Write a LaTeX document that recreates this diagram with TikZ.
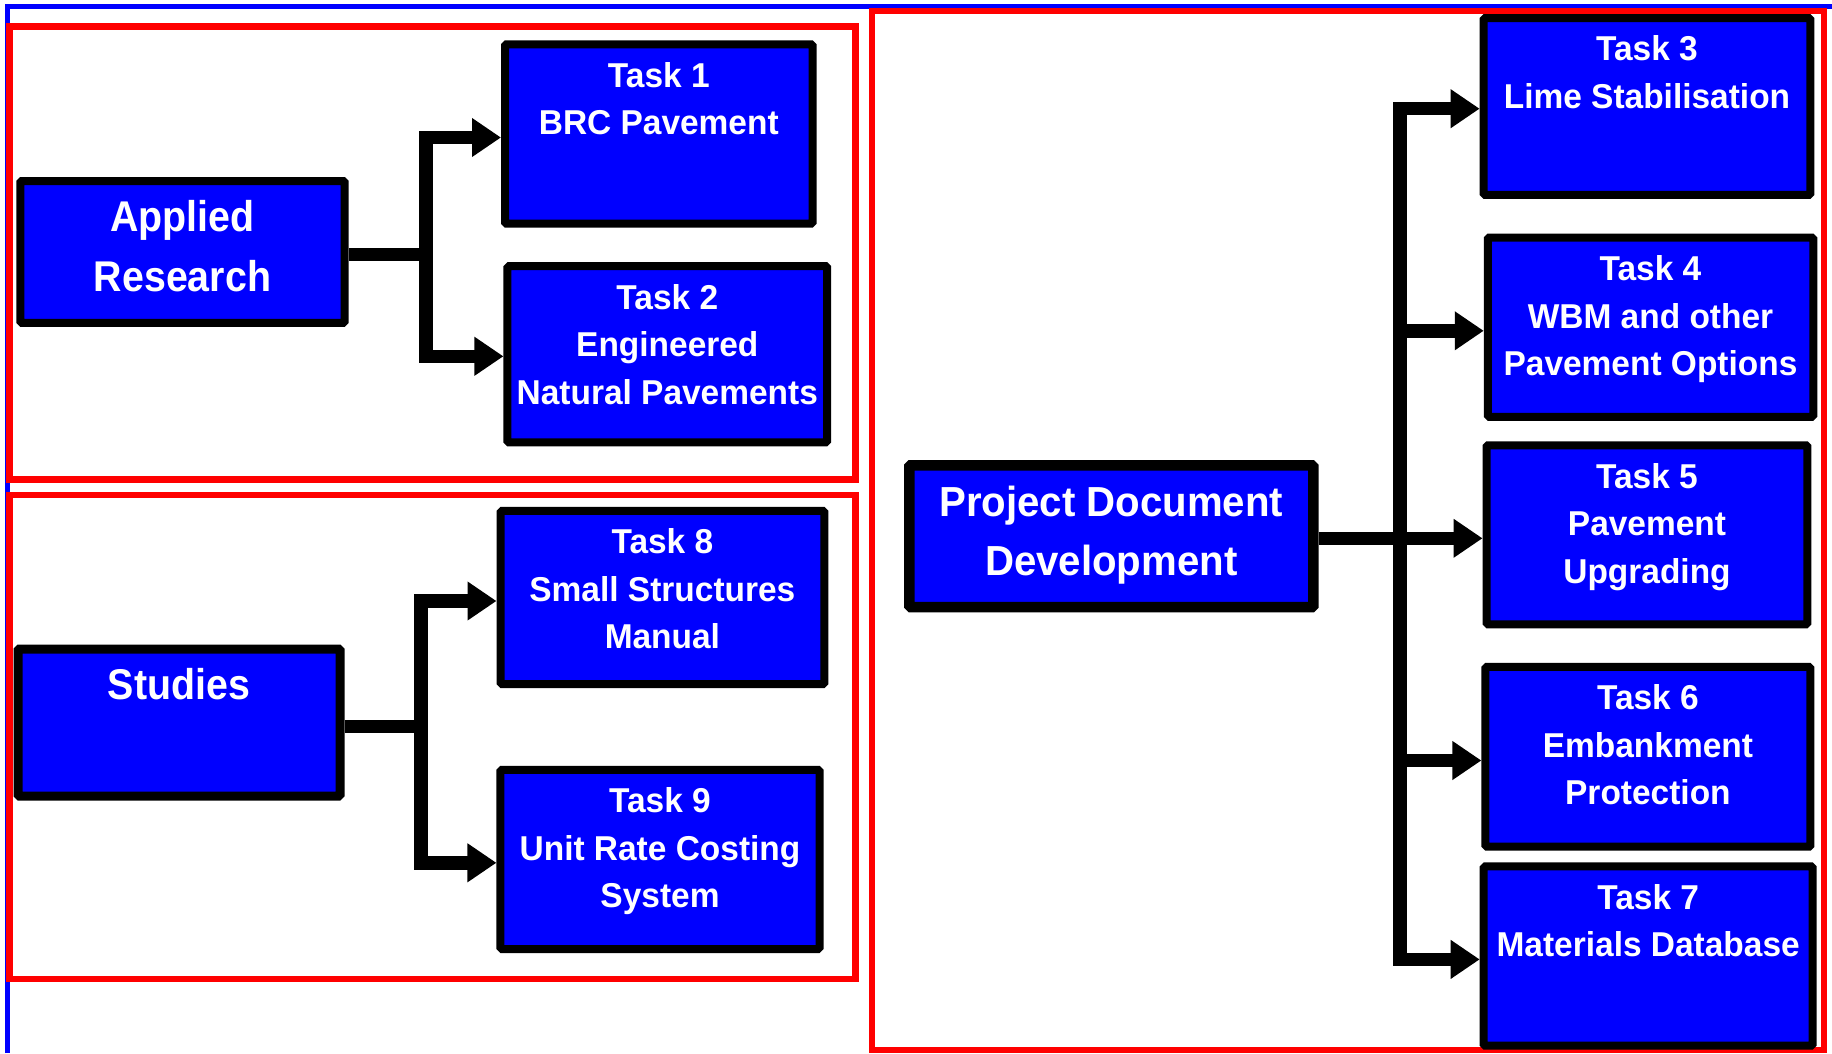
\documentclass[tikz,border=0pt]{standalone}
\usepackage{fontspec}
\usetikzlibrary{arrows.meta}
\newfontfamily\tfont[FakeStretch=0.97]{Liberation Sans Bold}
\newfontfamily\bfont[FakeStretch=0.915]{Liberation Sans Bold}
\newfontfamily\pfont[FakeStretch=0.957]{Liberation Sans Bold}
\definecolor{pblue}{RGB}{0,0,255}
\definecolor{pred}{RGB}{255,0,0}
\begin{document}
\begin{tikzpicture}[x=1pt,y=-1pt,
  box/.style={draw=black, line width=8pt, fill=pblue, rounded corners=1.5pt, inner sep=0pt},
  ttxt/.style={text=white, align=center, inner sep=0pt, outer sep=0pt, anchor=north,
    font=\tfont\fontsize{34.5}{47.6}\selectfont},
  btxt/.style={text=white, align=center, inner sep=0pt, outer sep=0pt, anchor=north,
    font=\bfont\fontsize{43}{60}\selectfont},
  ptxt/.style={text=white, align=center, inner sep=0pt, outer sep=0pt, anchor=north,
    font=\pfont\fontsize{42}{58.3}\selectfont},
  conn/.style={line width=13.5pt, draw=black},
  arr/.style={conn, -{Triangle[length=29pt,width=37pt]}},
  frame/.style={draw=pred, line width=6.5pt}
]
\useasboundingbox (0,0) rectangle (1832,1053);
\fill[white] (0,0) rectangle (1832,1053);
% blue outline
\draw[pblue, line width=5.3pt] (7.5,1053) -- (7.5,6.7) -- (1832,6.7);
% red frames
\draw[frame] (9.5,26.5) rectangle (855.5,479.5);
\draw[frame] (9.5,495) rectangle (855.5,979);
\draw[frame, line width=6pt] (871.5,11) rectangle (1823.5,1050);

% boxes
\node[box, minimum width=324.3pt, minimum height=141.7pt] (applied) at (182.5,251.9) {};
\node[box, line width=9pt, minimum width=322pt, minimum height=147pt] (studies) at (179,722.5) {};
\node[box, line width=10.5pt, minimum width=404pt, minimum height=141.7pt] (pdd) at (1111.3,536.2) {};
\node[box, minimum width=307.6pt, minimum height=179.3pt] (t1) at (658.8,134) {};
\node[box, minimum width=319.7pt, minimum height=176.2pt] (t2) at (667.3,354.3) {};
\node[box, minimum width=323.8pt, minimum height=173.1pt] (t8) at (662.4,597.5) {};
\node[box, minimum width=319.1pt, minimum height=179.2pt] (t9) at (660,859.4) {};
\node[box, minimum width=326.7pt, minimum height=176.9pt] (t3) at (1647,106.5) {};
\node[box, minimum width=325.5pt, minimum height=179.2pt] (t4) at (1650.5,327.2) {};
\node[box, minimum width=320.9pt, minimum height=179pt] (t5) at (1647,534.8) {};
\node[box, minimum width=325pt, minimum height=179.8pt] (t6) at (1647.9,756.8) {};
\node[box, minimum width=329pt, minimum height=179.1pt] (t7) at (1648.2,956) {};

% texts
\node[btxt] (appliedT) at ([yshift=-9.7pt]applied.north) {\rule{0pt}{45pt}Applied\\Research};
\node[btxt] (studiesT) at ([yshift=-9.7pt]studies.north) {\rule{0pt}{45pt}Studies};
\node[ptxt] (pddT) at ([yshift=-11.7pt]pdd.north) {\rule{0pt}{45pt}Project Document\\Development};
\node[ttxt] (t1T) at ([yshift=-10.8pt]t1.north) {\rule{0pt}{36pt}Task 1\\BRC Pavement};
\node[ttxt] (t2T) at ([yshift=-10.8pt]t2.north) {\rule{0pt}{36pt}Task 2\\Engineered\\Natural Pavements};
\node[ttxt] (t8T) at ([yshift=-10.8pt]t8.north) {\rule{0pt}{36pt}Task 8\\Small Structures\\Manual};
\node[ttxt] (t9T) at ([yshift=-10.8pt]t9.north) {\rule{0pt}{36pt}Task 9\\Unit Rate Costing\\System};
\node[ttxt] (t3T) at ([yshift=-10.8pt]t3.north) {\rule{0pt}{36pt}Task 3\\Lime Stabilisation};
\node[ttxt] (t4T) at ([yshift=-10.8pt]t4.north) {\rule{0pt}{36pt}Task 4\\WBM and other\\Pavement Options};
\node[ttxt] (t5T) at ([yshift=-10.8pt]t5.north) {\rule{0pt}{36pt}Task 5\\Pavement\\Upgrading};
\node[ttxt] (t6T) at ([yshift=-10.8pt]t6.north) {\rule{0pt}{36pt}Task 6\\Embankment\\Protection};
\node[ttxt] (t7T) at ([yshift=-10.8pt]t7.north) {\rule{0pt}{36pt}Task 7\\Materials Database};

% connectors
\coordinate (jA) at (425.8,254.4);
\draw[conn] ([yshift=-2.5pt]applied.east) -- (jA);
\draw[arr] (jA) |- ([yshift=-3.5pt]t1.west);
\draw[arr] (jA) |- ([yshift=-2pt]t2.west);

\coordinate (jS) at (421.2,726.3);
\draw[conn] ([yshift=-3.8pt]studies.east) -- (jS);
\draw[arr] (jS) |- ([yshift=-3.5pt]t8.west);
\draw[arr] (jS) |- ([yshift=-3.4pt]t9.west);

\coordinate (jR) at (1400.2,538.3);
\draw[arr] (pdd.east |- jR) -- (t5.west |- jR);
\draw[arr] (jR) |- ([yshift=-2.2pt]t3.west);
\draw[arr] (jR) |- ([yshift=-3.6pt]t4.west);
\draw[arr] (jR) |- ([yshift=-3.7pt]t6.west);
\draw[arr] (jR) |- ([yshift=-3.4pt]t7.west);
\end{tikzpicture}
\end{document}
